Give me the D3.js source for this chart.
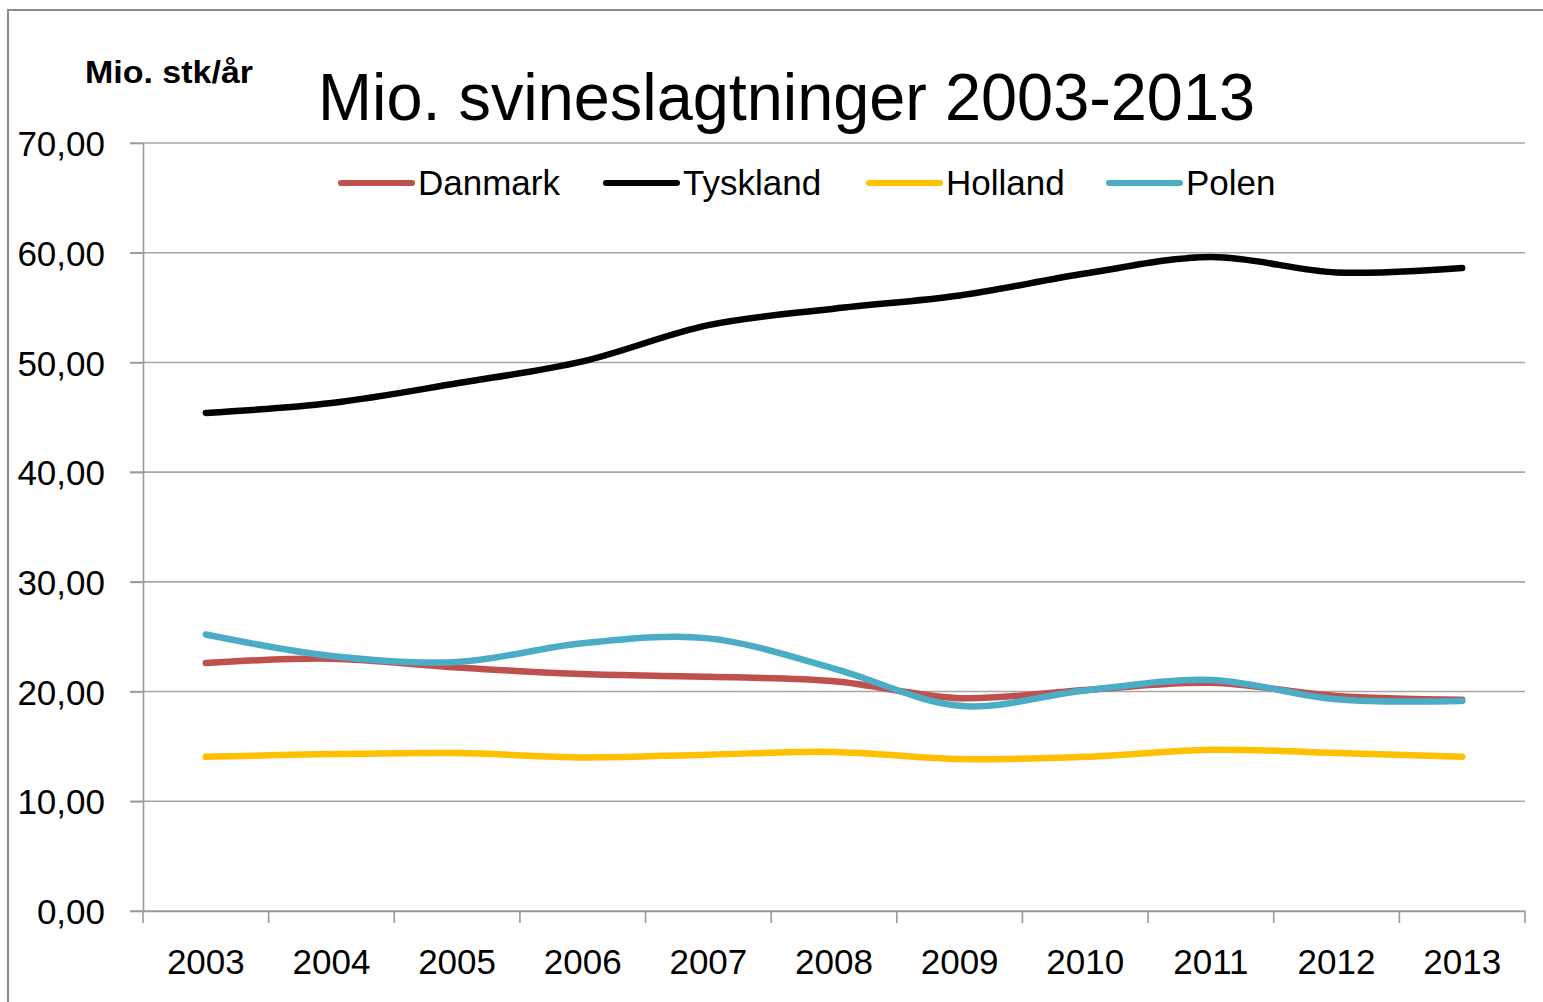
<!DOCTYPE html>
<html lang="da">
<head>
  <meta charset="UTF-8">
  <title>Mio. svineslagtninger 2003-2013</title>
  <script src="https://d3js.org/d3.v7.min.js"></script>
  <style>
    html, body {
      margin: 0;
      padding: 0;
      background: #fff;
    }

    svg {
      display: block;
      font-family: 'Liberation Sans', Arial, sans-serif;
    }

    .grid line {
      stroke: #a6a6a6;
      stroke-width: 1.6;
    }

    .axis path,
    .axis line {
      stroke: #9a9a9a;
      stroke-width: 1.6;
    }

    .axis text {
      fill: #000;
      font-size: 35px;
    }
  </style>
</head>
<body>
  <div id="chart"></div>

  <script>
    // Data (mio. slaughtered pigs per year)
    const years = ['2003', '2004', '2005', '2006', '2007', '2008', '2009', '2010', '2011', '2012', '2013'];
    const danmark = [22.6, 23.0, 22.2, 21.6, 21.35, 20.95, 19.4, 20.15, 20.8, 19.6, 19.25];
    const tyskland = [45.4, 46.3, 48.1, 50.1, 53.4, 54.9, 56.1, 58.1, 59.6, 58.2, 58.6];
    const holland = [14.05, 14.3, 14.4, 14.0, 14.25, 14.5, 13.85, 14.05, 14.7, 14.4, 14.05];
    const polen = [25.2, 23.25, 22.7, 24.4, 24.85, 22.1, 18.7, 20.1, 21.05, 19.3, 19.15];
    const yTicks = [0, 10, 20, 30, 40, 50, 60, 70];

    const seriesNames = ['Danmark', 'Tyskland', 'Holland', 'Polen'];
    const seriesValues = [danmark, tyskland, holland, polen];
    const colors = ['#c0504d', '#000000', '#ffc000', '#4bacc6'];

    const width = 1543;
    const height = 1002;
    const margin = { top: 143, right: 18, bottom: 91, left: 143 };

    const svg = d3.select('#chart')
      .append('svg')
      .attr('width', width)
      .attr('height', height);

    // outer frame of the chart object
    svg.append('path')
      .attr('d', `M8,${height + 5}V10H${width + 5}`)
      .attr('fill', 'none')
      .attr('stroke', '#8a8a8a')
      .attr('stroke-width', 2);

    const x = d3.scaleBand()
      .domain(years)
      .range([margin.left, width - margin.right]);

    const y = d3.scaleLinear()
      .domain([0, 70])
      .range([height - margin.bottom, margin.top]);

    // horizontal gridlines (with outward tick stubs)
    svg.append('g')
      .attr('class', 'grid')
      .selectAll('line')
      .data(yTicks)
      .join('line')
      .attr('x1', margin.left - 13)
      .attr('x2', width - margin.right)
      .attr('y1', d => y(d))
      .attr('y2', d => y(d));

    // y axis
    const fmt = d => d3.format('.2f')(d).replace('.', ',');
    const yAxis = svg.append('g')
      .attr('class', 'axis')
      .attr('transform', `translate(${margin.left},0)`)
      .call(d3.axisLeft(y).tickValues(yTicks).tickFormat(fmt).tickSize(13).tickSizeOuter(0).tickPadding(25));
    yAxis.selectAll('text').attr('dy', '0.36em');

    // x axis with ticks at category boundaries
    const xAxis = svg.append('g')
      .attr('class', 'axis')
      .attr('transform', `translate(0,${y(0)})`)
      .call(d3.axisBottom(x).tickSize(0).tickPadding(50));
    xAxis.selectAll('text').attr('dy', '0.36em');

    const bounds = years.map(d => x(d)).concat([x(years[years.length - 1]) + x.bandwidth()]);
    xAxis.selectAll('line.boundary')
      .data(bounds)
      .join('line')
      .attr('class', 'boundary')
      .attr('x1', d => d)
      .attr('x2', d => d)
      .attr('y1', 0)
      .attr('y2', 12);

    // series lines
    const line = d3.line()
      .x((d, i) => x(years[i]) + x.bandwidth() / 2)
      .y(d => y(d))
      .curve(d3.curveCardinal.tension(0));

    svg.append('g')
      .selectAll('path')
      .data(seriesValues)
      .join('path')
      .attr('d', d => line(d))
      .attr('fill', 'none')
      .attr('stroke', (d, i) => colors[i])
      .attr('stroke-width', 6.5)
      .attr('stroke-linecap', 'round')
      .attr('stroke-linejoin', 'round');

    // legend
    const legendX = [341, 606, 869, 1109];
    const legend = svg.append('g')
      .selectAll('g')
      .data(seriesNames)
      .join('g')
      .attr('transform', (d, i) => `translate(${legendX[i]},183)`);

    legend.append('line')
      .attr('x1', 0)
      .attr('x2', 71)
      .attr('stroke', (d, i) => colors[i])
      .attr('stroke-width', 6)
      .attr('stroke-linecap', 'round');

    legend.append('text')
      .attr('x', 77)
      .attr('y', 12)
      .attr('font-size', 35)
      .text(d => d);

    // titles
    svg.append('text')
      .attr('x', 318)
      .attr('y', 120)
      .attr('font-size', 66)
      .attr('textLength', 937)
      .attr('lengthAdjust', 'spacingAndGlyphs')
      .text('Mio. svineslagtninger 2003-2013');

    svg.append('text')
      .attr('x', 85)
      .attr('y', 83)
      .attr('font-size', 31)
      .attr('font-weight', 'bold')
      .attr('textLength', 168)
      .attr('lengthAdjust', 'spacingAndGlyphs')
      .text('Mio. stk/år');
  </script>
</body>
</html>
